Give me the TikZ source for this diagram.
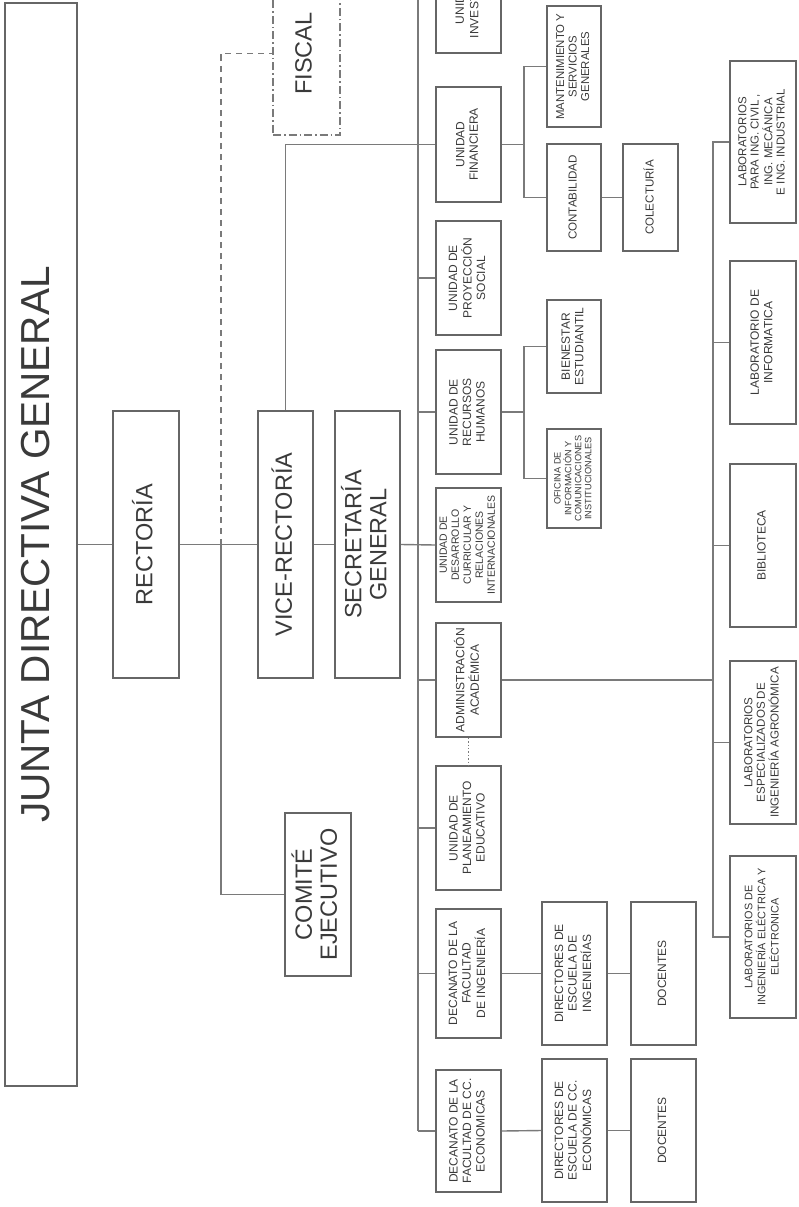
\documentclass[tikz,border=0pt]{standalone}
\usepackage{fontspec}
\setmainfont{Liberation Sans}
\usepackage{xcolor}
\definecolor{chart-line}{HTML}{7A7A7A}
\definecolor{chart-frame}{HTML}{666666}
\definecolor{chart-text}{HTML}{3A3A3A}
\usepackage{graphicx}
\usepackage{tikz}

\newcommand{\sidetext}[1]{\rotatebox{90}{\begin{tabular}{@{}c@{}}#1\end{tabular}}}

\tikzset{
    unit/.style={draw=chart-frame, line width=1.5pt, inner sep=0pt, text=chart-text, font=\fontsize{12}{13.5}\selectfont},
    big/.style={font=\fontsize{23.5}{25}\selectfont},
    link/.style={draw=chart-line, line width=1.4pt},
}

\begin{document}
\begin{tikzpicture}[x=1pt, y=-1pt]

    % Page
    \useasboundingbox (0, 0) rectangle (798, 1207);
    \clip (0, 0) rectangle (798, 1207);

    % Board and direction
    \node[unit, line width=2.2pt, minimum width=72, minimum height=1083, font=\fontsize{40.5}{42}\selectfont] (junta) at (41, 544.5) {\sidetext{JUNTA DIRECTIVA GENERAL}};
    \node[unit, big, minimum width=66, minimum height=267] (rect) at (146, 544.5) {\sidetext{RECTORÍA}};
    \node[unit, big, minimum width=55, minimum height=267] (vice) at (285.5, 544.5) {\sidetext{VICE-RECTORÍA}};
    \node[unit, big, minimum width=65, minimum height=267] (secr) at (367.5, 544.5) {\sidetext{SECRETARÍA\\GENERAL}};
    \node[unit, big, draw=chart-line, dash pattern=on 8pt off 3pt on 1.5pt off 3pt, minimum width=67, minimum height=163] (fiscal) at (306.5, 53.5) {\sidetext{FISCAL}};
    \node[unit, big, minimum width=66, minimum height=163] (comite) at (318, 894.5) {\sidetext{COMITÉ\\EJECUTIVO}};

    % Units
    \node[unit, minimum width=65, minimum height=124] (inv) at (468.5, -9) {\sidetext{UNIDAD DE\\INVESTIGACIÓN}};
    \node[unit, minimum width=65, minimum height=115] (fin) at (468.5, 144.5) {\sidetext{UNIDAD\\FINANCIERA}};
    \node[unit, minimum width=65, minimum height=114] (proy) at (468.5, 278) {\sidetext{UNIDAD DE\\PROYECCIÓN\\SOCIAL}};
    \node[unit, minimum width=65, minimum height=124] (rrhh) at (468.5, 412) {\sidetext{UNIDAD DE\\RECURSOS\\HUMANOS}};
    \node[unit, minimum width=65, minimum height=114, font=\fontsize{10.5}{12}\selectfont] (udc) at (468.5, 545) {\sidetext{UNIDAD DE\\DESARROLLO\\CURRICULAR Y\\RELACIONES\\INTERNACIONALES}};
    \node[unit, minimum width=65, minimum height=114] (adm) at (468.5, 680) {\sidetext{ADMINISTRACIÓN\\ACADÉMICA}};
    \node[unit, minimum width=65, minimum height=124] (plan) at (468.5, 828) {\sidetext{UNIDAD DE\\PLANEAMIENTO\\EDUCATIVO}};
    \node[unit, minimum width=65, minimum height=129] (ding) at (468.5, 973.5) {\sidetext{DECANATO DE LA\\FACULTAD\\DE INGENIERÍA}};
    \node[unit, minimum width=65, minimum height=122] (dcc) at (468.5, 1131) {\sidetext{DECANATO DE LA\\FACULTAD DE CC.\\ECONOMICAS}};

    % Second level
    \node[unit, font=\fontsize{11.4}{12.5}\selectfont, minimum width=54, minimum height=121] (mant) at (574, 66.5) {\sidetext{MANTENIMIENTO Y\\SERVICIOS\\GENERALES}};
    \node[unit, font=\fontsize{11.6}{13}\selectfont, minimum width=54, minimum height=107] (cont) at (574, 197.5) {\sidetext{CONTABILIDAD}};
    \node[unit, font=\fontsize{11.6}{13}\selectfont, minimum width=55, minimum height=107] (cole) at (650.5, 197.5) {\sidetext{COLECTURÍA}};
    \node[unit, minimum width=54, minimum height=93] (bien) at (574, 346.5) {\sidetext{BIENESTAR\\ESTUDIANTIL}};
    \node[unit, font=\fontsize{9.2}{10}\selectfont, minimum width=54, minimum height=99] (ofic) at (574, 478.5) {\sidetext{OFICINA DE\\INFORMACIÓN Y\\COMUNICACIONES\\INSTITUCIONALES}};
    \node[unit, minimum width=65, minimum height=143] (dire) at (574.5, 973.5) {\sidetext{DIRECTORES DE\\ESCUELA DE\\INGENIERÍAS}};
    \node[unit, minimum width=65, minimum height=143] (doci) at (663.5, 973.5) {\sidetext{DOCENTES}};
    \node[unit, minimum width=65, minimum height=143] (dirc) at (574.5, 1130.5) {\sidetext{DIRECTORES DE\\ESCUELA DE CC.\\ECONÓMICAS}};
    \node[unit, minimum width=65, minimum height=143] (docc) at (663.5, 1130.5) {\sidetext{DOCENTES}};

    % Laboratories
    \node[unit, font=\fontsize{11.5}{12.3}\selectfont, minimum width=66, minimum height=162] (labc) at (763, 142) {\sidetext{LABORATORIOS\\PARA ING. CIVIL ,\\ING. MECÁNICA\\E ING. INDUSTRIAL}};
    \node[unit, minimum width=66, minimum height=163] (labi) at (763, 342.5) {\sidetext{LABORATORIO DE\\INFORMATICA}};
    \node[unit, minimum width=66, minimum height=163] (bibl) at (763, 545.5) {\sidetext{BIBLIOTECA}};
    \node[unit, font=\fontsize{11.6}{12.5}\selectfont, minimum width=66, minimum height=163] (laba) at (763, 742.5) {\sidetext{LABORATORIOS\\ESPECIALIZADOS DE\\INGENIERÍA AGRONÓMICA}};
    \node[unit, font=\fontsize{10.9}{12.3}\selectfont, minimum width=66, minimum height=162] (labe) at (763, 937) {\sidetext{LABORATORIOS DE\\INGENIERÍA ELÉCTRICA Y\\ELÉCTRONICA}};

    % Main line
    \coordinate (jn) at (221, 544.5);
    \draw[link] (junta.east) -- (rect.west);
    \draw[link] (rect.east) -- (vice.west);
    \draw[link] (vice.east) -- (secr.west);
    \draw[link] (secr.east) -- (udc.west);
    \draw[link, dash pattern=on 6pt off 5pt] (jn) |- (fiscal.west);
    \draw[link] (jn) |- (comite.west);
    \draw[link] (vice.north) |- (fin.west);

    % Bus
    \coordinate (bus) at (418, 0);
    \draw[link] (bus |- inv.west) -- (bus |- dcc.west);
    \foreach \u in {inv, fin, proy, rrhh, adm, plan, ding, dcc}
        \draw[link] (bus |- \u.west) -- (\u.west);
    \draw[link, dotted, line width=1.4pt] (adm.south) -- (plan.north);

    % Branches
    \coordinate (fk) at (524, 144.5);
    \draw[link] (fin.east) -- (fk);
    \draw[link] (mant.west) -| (fk) |- (cont.west);
    \draw[link] (cont.east) -- (cole.west);
    \coordinate (rk) at (524, 412);
    \draw[link] (rrhh.east) -- (rk);
    \draw[link] (bien.west) -| (rk) |- (ofic.west);
    \draw[link] (ding.east) -- (dire.west);
    \draw[link] (dire.east) -- (doci.west);
    \draw[link] (dcc.east) -- (dirc.west);
    \draw[link] (dirc.east) -- (docc.west);

    % Labs
    \coordinate (lk) at (713, 680);
    \draw[link] (adm.east) -- (lk);
    \draw[link] (labc.west) -| (lk) |- (labe.west);
    \foreach \u in {labi, bibl, laba}
        \draw[link] (lk |- \u.west) -- (\u.west);

\end{tikzpicture}
\end{document}
